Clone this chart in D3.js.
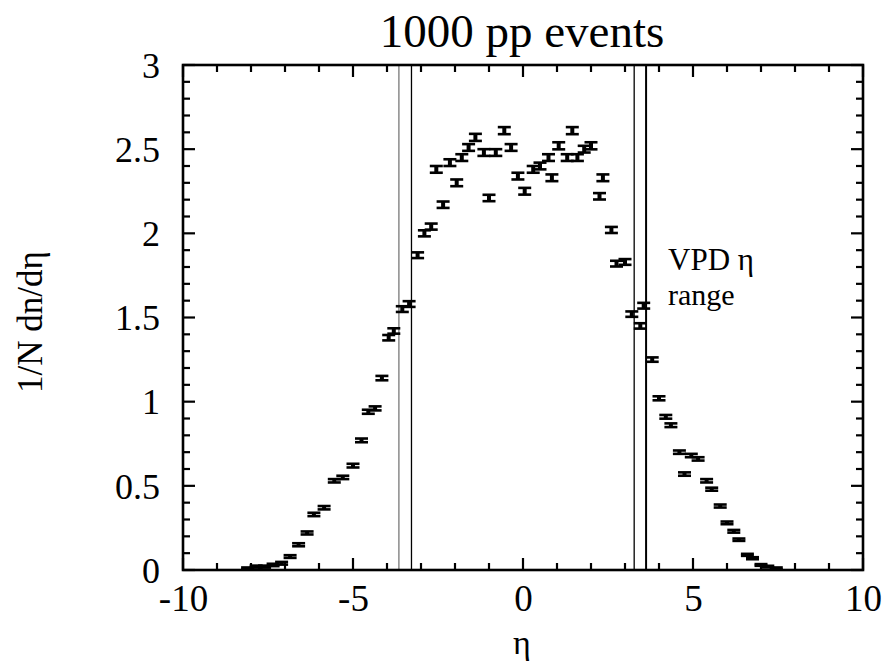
<!DOCTYPE html>
<html><head><meta charset="utf-8">
<script src="https://cdn.jsdelivr.net/npm/d3@7"></script>
<style>body{margin:0;background:#fff}svg{display:block}</style>
</head><body>
<svg id="c" width="882" height="668"></svg>
<script>
const eta = [-8.1,-7.85,-7.6,-7.35,-7.1,-6.85,-6.6,-6.35,-6.15,-5.85,-5.55,-5.3,-5.0,-4.75,-4.55,-4.35,-4.15,-3.95,-3.8,-3.55,-3.35,
  -3.1,-2.9,-2.7,-2.55,-2.35,-2.15,-1.95,-1.8,-1.6,-1.4,-1.15,-1.0,-0.8,-0.55,-0.35,-0.15,0.05,0.3,0.5,0.75,0.85,1.05,1.3,1.45,1.6,1.8,2.0,2.25,2.35,2.6,2.75,3.0,3.2,3.45,3.55,
  3.8,4.0,4.2,4.35,4.6,4.75,4.95,5.15,5.4,5.55,5.8,6.0,6.2,6.35,6.6,6.75,7.0,7.2,7.45];
const dndeta = [0.01,0.02,0.02,0.03,0.04,0.08,0.15,0.22,0.33,0.37,0.53,0.55,0.62,0.77,0.94,0.96,1.14,1.38,1.42,1.55,1.58,
  1.87,2.0,2.04,2.38,2.17,2.42,2.30,2.45,2.51,2.57,2.48,2.21,2.48,2.61,2.51,2.34,2.25,2.38,2.40,2.45,2.33,2.52,2.45,2.61,2.45,2.50,2.52,2.22,2.33,2.02,1.82,1.83,1.52,1.45,1.57,
  1.25,1.02,0.91,0.86,0.70,0.57,0.68,0.66,0.53,0.48,0.38,0.28,0.23,0.18,0.09,0.07,0.03,0.02,0.01];
const errs = [0.005,0.006,0.006,0.007,0.008,0.008,0.009,0.009,0.01,0.01,0.01,0.01,0.011,0.011,0.012,0.012,0.013,0.016,0.016,0.017,0.017,
  0.017,0.018,0.018,0.02,0.019,0.02,0.02,0.02,0.02,0.021,0.02,0.019,0.02,0.021,0.02,0.02,0.02,0.02,0.02,0.02,0.02,0.021,0.02,0.021,0.02,0.02,0.021,0.019,0.02,0.018,0.017,0.017,0.016,0.016,0.017,
  0.013,0.012,0.011,0.011,0.01,0.01,0.01,0.01,0.01,0.009,0.009,0.008,0.008,0.007,0.006,0.006,0.005,0.005,0.005];
const vpdLines = [-3.65,-3.28,3.27,3.62];
const xTicks = [-10,-5,0,5,10];
const yTicks = [0,0.5,1,1.5,2,2.5,3];

const FONT = '"Times New Roman","Liberation Serif","DejaVu Serif","Noto Serif",serif';
const L=183,R=863,T=65,B=570;
const svg=d3.select("#c");
const x=d3.scaleLinear().domain([-10,10]).range([L,R]);
const y=d3.scaleLinear().domain([0,3]).range([B,T]);

// VPD lines
svg.selectAll("line.vpd").data(vpdLines).enter().append("line")
  .attr("x1",d=>x(d)).attr("x2",d=>x(d)).attr("y1",T).attr("y2",B)
  .attr("stroke",(d,i)=>i===0?"#777":"#000").attr("stroke-width",(d,i)=>i===3?2:1.3);

// minor/major ticks
const xMinor=d3.range(-10,10.01,1), yMinor=d3.range(0,3.001,0.1);
const tk=svg.append("g").attr("stroke","#000").attr("stroke-width",2.2);
xMinor.forEach(v=>{const maj=Math.abs(v%5)<1e-6, len=maj?12:7;
  tk.append("line").attr("x1",x(v)).attr("x2",x(v)).attr("y1",B).attr("y2",B-len);
  tk.append("line").attr("x1",x(v)).attr("x2",x(v)).attr("y1",T).attr("y2",T+len);});
yMinor.forEach(v=>{const r=Math.round(v*10)%5, len=r===0?12:7;
  tk.append("line").attr("x1",L).attr("x2",L+len).attr("y1",y(v)).attr("y2",y(v));
  tk.append("line").attr("x1",R).attr("x2",R-len).attr("y1",y(v)).attr("y2",y(v));});

// frame
svg.append("rect").attr("x",L).attr("y",T).attr("width",R-L).attr("height",B-T)
  .attr("fill","none").attr("stroke","#000").attr("stroke-width",2.6);

// axes labels via d3 axes (lines hidden)
const xa=svg.append("g").attr("transform",`translate(0,${B})`).call(d3.axisBottom(x).tickValues(xTicks).tickSize(0).tickPadding(15).tickFormat(d=>String(d)));
const ya=svg.append("g").attr("transform",`translate(${L},0)`).call(d3.axisLeft(y).tickValues(yTicks).tickSize(0).tickPadding(23).tickFormat(d=>String(d)));
xa.attr("font-size",37); ya.attr("font-size",36);
[xa,ya].forEach(a=>{a.attr("font-family",FONT);a.select(".domain").remove();a.selectAll("text").attr("fill","#000");});
ya.selectAll("text").attr("dy","0.34em");

// data points with error bars
const pts=eta.map((e,i)=>({e,v:dndeta[i],err:errs[i]}));
const hw=6.5;
const g=svg.append("g").attr("stroke","#000");
pts.forEach(p=>{
  const cx=x(p.e), y1=y(p.v+p.err), y2=y(p.v-p.err);
  g.append("line").attr("x1",cx-hw).attr("x2",cx+hw).attr("y1",y1).attr("y2",y1).attr("stroke-width",2.6);
  g.append("line").attr("x1",cx-hw).attr("x2",cx+hw).attr("y1",y2).attr("y2",y2).attr("stroke-width",2.6);
  g.append("line").attr("x1",cx).attr("x2",cx).attr("y1",y1).attr("y2",y2).attr("stroke-width",4);
});

// titles
const tg=svg.append("g").attr("font-family",FONT).attr("fill","#000");
tg.append("text").attr("x",522).attr("y",47).attr("text-anchor","middle").attr("font-size",47).text("1000 pp events");
tg.append("text").attr("x",522).attr("y",654).attr("text-anchor","middle").attr("font-size",34).text("η");
tg.append("text").attr("transform","translate(42,322) rotate(-90)").attr("text-anchor","middle").attr("font-size",35).text("1/N dn/dη");
tg.append("text").attr("x",668).attr("y",270).attr("font-size",31).text("VPD η");
tg.append("text").attr("x",668).attr("y",305).attr("font-size",30).text("range");
</script>
</body></html>
